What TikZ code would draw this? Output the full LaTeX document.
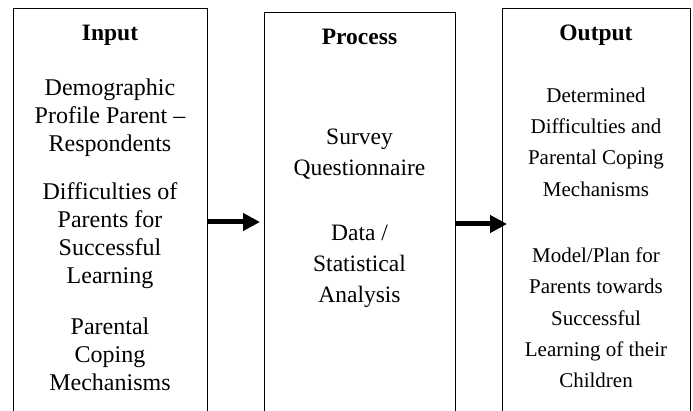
\documentclass[tikz,border=0pt]{standalone}
\usepackage{fontspec}
\setmainfont{Liberation Serif}
\usetikzlibrary{arrows.meta}

\begin{document}
\begin{tikzpicture}[
    x=1pt, y=1pt,
    frame/.style    = {draw=black, line width=1.4pt, anchor=north west, inner sep=0pt},
    head/.style     = {font=\fontsize{23.5}{28}\selectfont\bfseries},
    inbody/.style   = {align=center, font=\fontsize{24}{28}\selectfont},
    procbody/.style = {align=center, font=\fontsize{23.5}{31}\selectfont},
    outbody/.style  = {align=center, font=\fontsize{21}{31.3}\selectfont},
    flow/.style     = {-{Triangle[length=17pt, width=17pt]}, line width=5pt},
]

\useasboundingbox (0,0) rectangle (693,410);
\clip (0,0) rectangle (693,410);

%% ---- Boxes (bottom edges run off the page) ----

\node[frame, minimum width=194pt, minimum height=420pt] (inbox)   at (13,402)  {};
\node[frame, minimum width=191pt, minimum height=420pt] (procbox) at (264,398) {};
\node[frame, minimum width=188pt, minimum height=420pt] (outbox)  at (502,402) {};

%% ---- Headers ----

\node[head] (inhead)   at (110,374.5)   {Input};
\node[head] (prochead) at (359.5,373)   {Process};
\node[head] (outhead)  at (596,374.5)   {Output};

%% ---- Input ----

\node[inbody] (demo) at (110,292.5) {Demographic\\Profile Parent --\\Respondents};
\node[inbody] (diff) at (110,174)   {Difficulties of\\Parents for\\Successful\\Learning};
\node[inbody] (cope) at (110,55.5)  {Parental\\Coping\\Mechanisms};

%% ---- Process ----

\node[procbody] (survey) at (359.5,255.5) {Survey\\Questionnaire};
\node[procbody] (stats)  at (359.5,144)   {Data /\\Statistical\\Analysis};

%% ---- Output ----

\node[outbody] (found) at (596,268) {Determined\\Difficulties and\\Parental Coping\\Mechanisms};
\node[outbody] (model) at (596,92)  {Model/Plan for\\Parents towards\\Successful\\Learning of their\\Children};

%% ---- Arrows ----

\coordinate (tip1) at (260,188);
\coordinate (tip2) at (507,186);
\draw[flow] (inbox.east |- tip1) -- (tip1);
\draw[flow] (procbox.east |- tip2) -- (tip2);

\end{tikzpicture}
\end{document}
